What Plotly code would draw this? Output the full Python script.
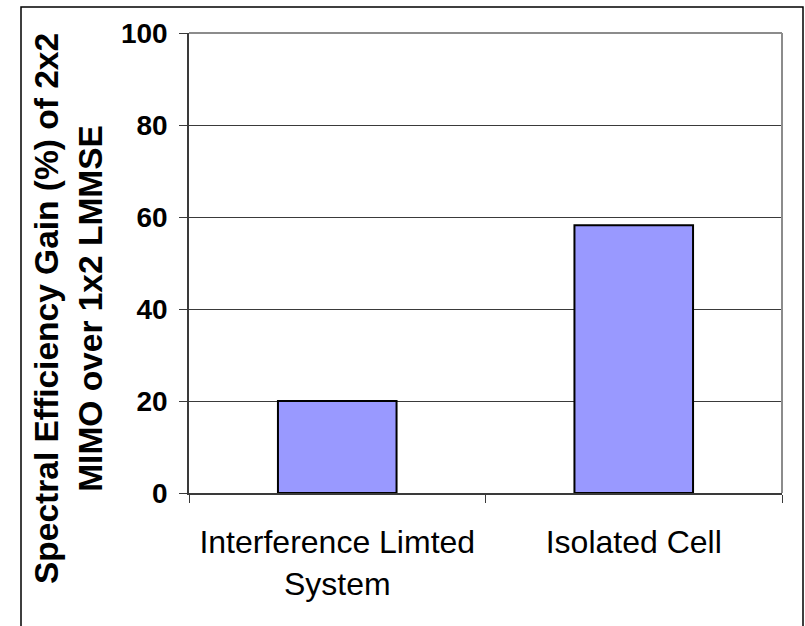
import plotly.graph_objects as go

categories = ["Interference Limted<br>System", "Isolated Cell"]
gain_values = [20, 58.2]
y_tick_values = [0, 20, 40, 60, 80, 100]
y_title_lines = ["Spectral Efficiency Gain (%) of 2x2", "MIMO over 1x2 LMMSE"]

W, H = 805, 626
L, R, T, B = 189, 23, 33, 133
pw, ph = W - L - R, H - T - B

def px(x):
    return (x - L) / pw

def py(y):
    return (H - B - y) / ph

fig = go.Figure()
fig.add_trace(go.Bar(
    x=categories, y=gain_values,
    marker=dict(color="#9999FF", line=dict(color="black", width=2)),
    width=0.4,
))

fig.update_layout(
    width=W, height=H,
    margin=dict(l=L, r=R, t=T, b=B, pad=0),
    paper_bgcolor="white", plot_bgcolor="white",
    showlegend=False,
    font=dict(family="Liberation Sans, Arial, sans-serif", color="black"),
)
fig.update_yaxes(
    range=[0, 100], tickvals=y_tick_values,
    showgrid=True, gridcolor="#3a3a3a", gridwidth=1,
    showline=True, linecolor="#3a3a3a", linewidth=1.5,
    ticks="outside", ticklen=8, tickcolor="#3a3a3a", tickwidth=1,
    tickfont=dict(size=28, weight="bold", color="black"),
    ticklabelstandoff=6,
    zeroline=False, fixedrange=True,
)
fig.update_xaxes(
    showline=True, linecolor="#3a3a3a", linewidth=1.5,
    ticks="outside", tickson="boundaries", ticklen=8, tickcolor="#3a3a3a", tickwidth=1,
    tickfont=dict(size=32, color="black"),
    ticklabelstandoff=20,
    showgrid=False, fixedrange=True,
)

# plot-area border (top and right, gray)
fig.add_shape(type="line", xref="paper", yref="paper", x0=0, x1=1, y0=1, y1=1,
              line=dict(color="#8c8c8c", width=2), layer="above")
fig.add_shape(type="line", xref="paper", yref="paper", x0=1, x1=1, y0=0, y1=1,
              line=dict(color="#8c8c8c", width=2), layer="above")
# outer frame
fig.add_shape(type="path", xref="paper", yref="paper",
              path=f"M {px(21)} {py(640)} L {px(21)} {py(7)} L {px(803)} {py(7)} L {px(803)} {py(640)}",
              line=dict(color="black", width=1.5), layer="above")

fig.add_annotation(
    xref="paper", yref="paper", x=px(68), y=py(309),
    text="<br>".join(y_title_lines), textangle=-90, showarrow=False,
    xanchor="center", yanchor="middle",
    font=dict(size=33.5, weight="bold", color="black"),
)

fig.write_html("out.html", config={"displayModeBar": False},
               post_script="document.body.style.margin='0';document.body.style.overflow='hidden';")
